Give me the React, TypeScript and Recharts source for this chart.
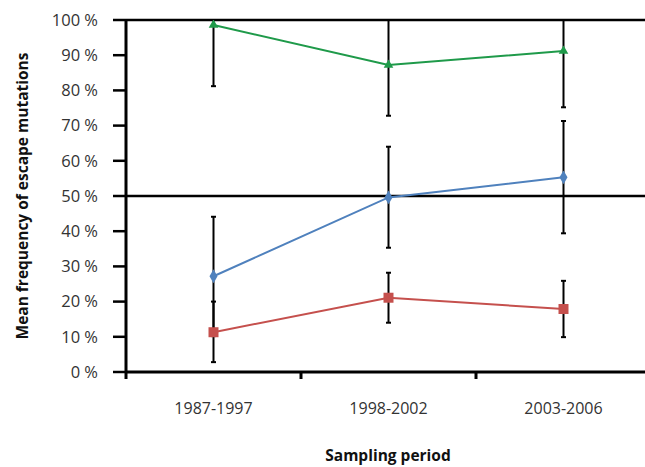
import { ErrorBar, Line, LineChart, ReferenceLine, Symbols, XAxis, YAxis } from 'recharts';

const periods = ['1987-1997', '1998-2002', '2003-2006'];

const greenMean = [98.6, 87.2, 91.2];
const greenErrLow = [17.4, 14.4, 16.0];
const greenErrHigh = [1.4, 12.8, 8.8];

const blueMean = [27.2, 49.6, 55.3];
const blueErrLow = [17.0, 14.3, 15.9];
const blueErrHigh = [16.9, 14.4, 16.0];

const redMean = [11.3, 21.1, 17.9];
const redErrLow = [8.5, 7.1, 8.0];
const redErrHigh = [8.7, 7.1, 8.0];

const yTicks = [0, 10, 20, 30, 40, 50, 60, 70, 80, 90, 100];

const data = periods.map((period, i) => ({
  period,
  green: greenMean[i],
  greenErr: [greenErrLow[i], greenErrHigh[i]],
  blue: blueMean[i],
  blueErr: [blueErrLow[i], blueErrHigh[i]],
  red: redMean[i],
  redErr: [redErrLow[i], redErrHigh[i]],
}));

const FONT = '"Open Sans", "Noto Sans", sans-serif';
const GREEN = '#1f9a4a';
const BLUE = '#4f81bd';
const RED = '#c5504d';

const CHART_W = 660;
const CHART_H = 467;
const MARGIN = { top: 20, right: 9, left: 0, bottom: 45 };
const Y_AXIS_W = 126;
const STEP = (CHART_W - MARGIN.left - MARGIN.right - Y_AXIS_W) / periods.length;

const marker = (type: 'triangle' | 'diamond' | 'square', size: number, color: string) =>
  (props: any) => (
    <Symbols
      key={`${type}-${props.index}`}
      cx={props.cx}
      cy={props.cy}
      type={type}
      size={size}
      fill={color}
      stroke="none"
    />
  );

// label centred on the period, tick marks on the boundaries between periods
function PeriodTick(props: any) {
  const { x, y, payload, index } = props;
  const last = index === periods.length - 1;
  return (
    <g>
      <line x1={x - STEP / 2} x2={x - STEP / 2} y1={y} y2={y + 7} stroke="#000" strokeWidth={3} />
      {last && (
        <line x1={x + STEP / 2} x2={x + STEP / 2} y1={y} y2={y + 7} stroke="#000" strokeWidth={3} />
      )}
      <text x={x} y={y + 42} textAnchor="middle" fill="#333" fontSize={16} fontFamily={FONT}>
        {payload.value}
      </text>
    </g>
  );
}

export default function App() {
  return (
    <div
      style={{
        position: 'absolute',
        left: 0,
        top: 0,
        width: 645,
        height: 467,
        overflow: 'hidden',
        background: '#fff',
        fontFamily: FONT,
      }}
    >
      <LineChart width={CHART_W} height={CHART_H} data={data} margin={MARGIN}>
        <XAxis
          dataKey="period"
          padding={{ left: STEP / 2, right: STEP / 2 }}
          axisLine={{ stroke: '#000', strokeWidth: 3 }}
          tickLine={false}
          tickSize={0}
          tickMargin={0}
          height={50}
          interval={0}
          tick={<PeriodTick />}
        />
        <YAxis
          domain={[0, 100]}
          ticks={yTicks}
          allowDataOverflow
          width={Y_AXIS_W}
          tickSize={13}
          tickMargin={15}
          tickFormatter={(v: number) => `${v} %`}
          tick={{ fill: '#333', fontSize: 16.5, fontFamily: FONT }}
          axisLine={{ stroke: '#000', strokeWidth: 3 }}
          tickLine={{ stroke: '#000', strokeWidth: 2.5 }}
        />
        <ReferenceLine y={100} stroke="#000" strokeWidth={2.5} />
        <ReferenceLine y={50} stroke="#000" strokeWidth={2.5} />
        <Line
          dataKey="green"
          stroke={GREEN}
          strokeWidth={2}
          dot={marker('triangle', 40, GREEN)}
          activeDot={false}
          isAnimationActive={false}
        >
          <ErrorBar dataKey="greenErr" direction="y" width={2.5} stroke="#000" strokeWidth={2} />
        </Line>
        <Line
          dataKey="blue"
          stroke={BLUE}
          strokeWidth={2}
          dot={marker('diamond', 55, BLUE)}
          activeDot={false}
          isAnimationActive={false}
        >
          <ErrorBar dataKey="blueErr" direction="y" width={2.5} stroke="#000" strokeWidth={2} />
        </Line>
        <Line
          dataKey="red"
          stroke={RED}
          strokeWidth={2}
          dot={marker('square', 100, RED)}
          activeDot={false}
          isAnimationActive={false}
        >
          <ErrorBar dataKey="redErr" direction="y" width={2.5} stroke="#000" strokeWidth={2} />
        </Line>
      </LineChart>
      <div
        style={{
          position: 'absolute',
          left: 22,
          top: 196,
          transform: 'translate(-50%, -50%) rotate(-90deg)',
          whiteSpace: 'nowrap',
          fontWeight: 700,
          fontSize: 15.5,
          color: '#111',
        }}
      >
        Mean frequency of escape mutations
      </div>
      <div
        style={{
          position: 'absolute',
          left: 388,
          top: 455,
          transform: 'translate(-50%, -50%)',
          whiteSpace: 'nowrap',
          fontWeight: 700,
          fontSize: 15.5,
          color: '#111',
        }}
      >
        Sampling period
      </div>
    </div>
  );
}
